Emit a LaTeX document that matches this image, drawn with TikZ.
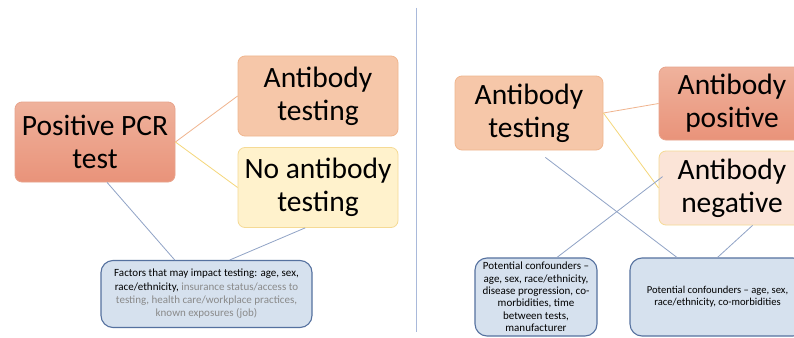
\documentclass[tikz,border=0pt]{standalone}
\usepackage{fontspec}
\setmainfont{Carlito}
\usetikzlibrary{calc}
\definecolor{pcrtop}{HTML}{EFB29C}
\definecolor{pcrbot}{HTML}{E9937A}
\definecolor{pcrline}{HTML}{E8A48C}
\definecolor{abfill}{HTML}{F6C7A9}
\definecolor{abline}{HTML}{F0B68F}
\definecolor{noabfill}{HTML}{FFF2CC}
\definecolor{noabline}{HTML}{F5DA95}
\definecolor{negfill}{HTML}{FBE4D7}
\definecolor{bluefill}{HTML}{D6E1EE}
\definecolor{blueline}{HTML}{55719F}
\definecolor{conn}{HTML}{90A3C6}
\definecolor{orconn}{HTML}{F0B48E}
\definecolor{yeconn}{HTML}{F5D77A}
\definecolor{divider}{HTML}{A9B9DA}
\definecolor{grtext}{HTML}{8A8A8A}
\tikzset{
  bigbox/.style={rectangle, rounded corners=7pt, line width=0.8pt, align=center,
    inner sep=0pt, font=\fontsize{29.5}{33}\selectfont},
  bluebox/.style={rectangle, rounded corners=12pt, line width=1.1pt, draw=blueline,
    fill=bluefill, align=center, inner sep=0pt},
  orlink/.style={draw=orconn, line width=0.8pt},
  yelink/.style={draw=yeconn, line width=0.8pt},
  bllink/.style={draw=conn, line width=0.8pt},
}
\begin{document}
\begin{tikzpicture}[x=1pt,y=-1pt]
\useasboundingbox (0,0) rectangle (794,337);
\clip (0,0) rectangle (794,337);
\fill[white] (0,0) rectangle (794,337);
% divider
\coordinate (dtop) at (416,8);
\coordinate (dbot) at (416,332);
\draw[divider, line width=0.9pt] (dtop) -- (dbot);

% left part
\node[bigbox, draw=pcrline, top color=pcrtop, bottom color=pcrbot,
  minimum width=160pt, minimum height=80pt] (pcr) at (95,142) {Positive PCR\\test};
\node[bigbox, draw=abline, fill=abfill, minimum width=160pt, minimum height=80pt]
  (abtL) at (318,96) {Antibody\\testing};
\node[bigbox, draw=noabline, fill=noabfill, minimum width=160pt, minimum height=80pt]
  (noab) at (318,187.5) {No antibody\\testing};
\node[bluebox, minimum width=211pt, minimum height=67pt,
  font=\fontsize{11}{13.4}\selectfont] (fact) at (206.5,294)
  {Factors that may impact testing: age, sex,\\
   race/ethnicity, \textcolor{grtext}{insurance status/access to}\\
   \textcolor{grtext}{testing, health care/workplace practices,}\\
   \textcolor{grtext}{known exposures (job)}};

\draw[orlink] (pcr.east) -- (abtL.west);
\draw[yelink] (pcr.east) -- (noab.west);
\draw[bllink] ($(pcr.south west)!0.575!(pcr.south east)$) -- ($(fact.north west)!0.35!(fact.north east)$);
\draw[bllink] ($(noab.south west)!0.42!(noab.south east)$) -- ($(fact.north west)!0.61!(fact.north east)$);

% right part
\node[bigbox, draw=abline, fill=abfill, minimum width=148pt, minimum height=74pt]
  (abtR) at (529,113) {Antibody\\testing};
\node[bigbox, draw=pcrline, top color=pcrtop, bottom color=pcrbot,
  minimum width=146pt, minimum height=73pt] (pos) at (732,103.5) {Antibody\\positive};
\node[bigbox, draw=noabline, fill=negfill, minimum width=146pt, minimum height=74pt]
  (neg) at (732,188) {Antibody\\negative};
\node[bluebox, minimum width=122pt, minimum height=78pt,
  font=\fontsize{11}{12.4}\selectfont] (lconf) at (536,297)
  {Potential confounders --\\age, sex, race/ethnicity,\\disease progression, co-\\morbidities, time\\between tests,\\manufacturer};
\node[bluebox, minimum width=175pt, minimum height=78pt,
  font=\fontsize{10.6}{12}\selectfont] (rconf) at (717.5,297)
  {Potential confounders -- age, sex,\\race/ethnicity, co-morbidities};

\draw[orlink] (abtR.east) -- (pos.west);
\draw[yelink] (abtR.east) -- (neg.west);
\draw[bllink] ($(abtR.south west)!0.61!(abtR.south east)+(0,7)$) -- ($(rconf.north west)!0.27!(rconf.north east)$);
\draw[bllink] ($(neg.north west)+(4,26)$) -- ($(lconf.north west)!0.67!(lconf.north east)$);
\draw[bllink] ($(neg.south west)!0.64!(neg.south east)$) -- ($(rconf.north west)!0.5!(rconf.north east)$);
\end{tikzpicture}
\end{document}
